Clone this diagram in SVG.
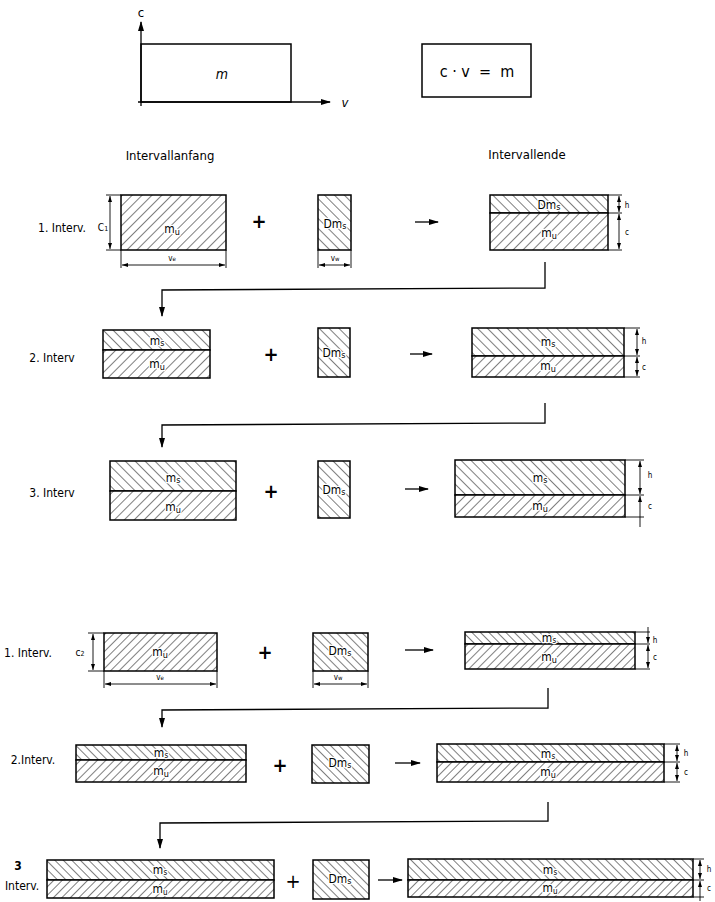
<svg xmlns="http://www.w3.org/2000/svg" width="715" height="902" viewBox="0 0 715 902">
<style>
  .t{font-family:"DejaVu Sans Condensed","Liberation Sans Narrow","Liberation Sans",sans-serif;fill:#000}
  .lbl{font-size:12px}
  .in{font-size:12px;text-anchor:middle;paint-order:stroke;stroke:#fff;stroke-width:2.5px;stroke-linejoin:round}
  .sm{font-size:8px;text-anchor:middle}
  .box{stroke:#000;stroke-width:1.5;}
  .ln{stroke:#000;stroke-width:1.3;fill:none}
  .thin{stroke:#000;stroke-width:0.9;fill:none}
</style>
<defs>
  <pattern id="hu" width="7" height="7" patternUnits="userSpaceOnUse" patternTransform="rotate(45)"><rect width="7" height="7" fill="#fff"/><line x1="0" y1="0" x2="0" y2="7" stroke="#000" stroke-width="1"/></pattern>
  <pattern id="hs" width="7" height="7" patternUnits="userSpaceOnUse" patternTransform="rotate(-45)"><rect width="7" height="7" fill="#fff"/><line x1="0" y1="0" x2="0" y2="7" stroke="#000" stroke-width="1"/></pattern>
  <pattern id="hu2" width="6" height="6" patternUnits="userSpaceOnUse" patternTransform="rotate(45)"><rect width="6" height="6" fill="#fff"/><line x1="0" y1="0" x2="0" y2="6" stroke="#000" stroke-width="1"/></pattern>
  <pattern id="hs2" width="6" height="6" patternUnits="userSpaceOnUse" patternTransform="rotate(-45)"><rect width="6" height="6" fill="#fff"/><line x1="0" y1="0" x2="0" y2="6" stroke="#000" stroke-width="1"/></pattern>
  <marker id="ah" markerWidth="10" markerHeight="8" refX="9" refY="4" orient="auto" markerUnits="userSpaceOnUse"><path d="M0,1 L10,4 L0,7 Z" fill="#000"/></marker>
  <marker id="da" markerWidth="6" markerHeight="4" refX="6" refY="2" orient="auto-start-reverse" markerUnits="userSpaceOnUse"><path d="M0,0 L6,2 L0,4 Z" fill="#000"/></marker>
</defs>
<rect width="715" height="902" fill="#fff"/>

<!-- Top: c-v diagram -->
<g id="cv-diagram">
  <line class="ln" x1="141" y1="106" x2="141" y2="22" marker-end="url(#ah)"/>
  <line class="ln" x1="138" y1="102" x2="330" y2="102" marker-end="url(#ah)"/>
  <rect class="box" x="141" y="44" width="150" height="58" fill="none"/>
  <text class="t" x="141" y="17" font-size="13" text-anchor="middle">c</text>
  <text class="t" x="345" y="107" font-size="13" text-anchor="middle" font-style="italic">v</text>
  <text class="t" x="222" y="79" font-size="14" text-anchor="middle" font-style="italic">m</text>
</g>
<g id="formula">
  <rect class="box" x="422" y="44" width="109" height="53" fill="none"/>
  <text class="t" x="477" y="77" font-size="16" text-anchor="middle" xml:space="preserve">c · v  =  m</text>
</g>

<g id="headers">
  <text class="t" font-size="13" x="170" y="160" text-anchor="middle">Intervallanfang</text>
  <text class="t" font-size="13" x="527" y="159" text-anchor="middle">Intervallende</text>
</g>

<!-- Connectors -->
<g id="connectors">
  <polyline class="ln" points="545,262 545,288 162,290 162,316" marker-end="url(#ah)"/>
  <polyline class="ln" points="545,403 545,423 162,425 162,447" marker-end="url(#ah)"/>
  <polyline class="ln" points="548,688 548,708 162,710 162,727" marker-end="url(#ah)"/>
  <polyline class="ln" points="548,802 548,821 160,823 160,848" marker-end="url(#ah)"/>
</g>

<!-- Section A, row 1 -->
<g id="a1-label"><text class="t lbl" x="62" y="232" text-anchor="middle">1. Interv.</text></g>
<g id="a1-start">
  <rect class="box" x="121" y="195" width="105" height="55" fill="url(#hu)"/>
  <text class="t in" x="172" y="233">m<tspan font-size="9" dy="2">u</tspan></text>
  <line class="thin" x1="106" y1="195" x2="121" y2="195"/>
  <line class="thin" x1="106" y1="250" x2="121" y2="250"/>
  <line class="thin" x1="110" y1="196" x2="110" y2="249" marker-start="url(#da)" marker-end="url(#da)"/>
  <text class="t" x="103" y="231" font-size="10" text-anchor="middle">C<tspan font-size="7">1</tspan></text>
  <line class="thin" x1="121" y1="250" x2="121" y2="268"/>
  <line class="thin" x1="226" y1="250" x2="226" y2="268"/>
  <line class="thin" x1="122" y1="265" x2="225" y2="265" marker-start="url(#da)" marker-end="url(#da)"/>
  <text class="t sm" x="172" y="261">v<tspan font-size="6">e</tspan></text>
</g>
<g id="a1-plus"><text class="t" x="259" y="228" font-size="20" font-weight="bold" text-anchor="middle">+</text></g>
<g id="a1-dm">
  <rect class="box" x="318" y="195" width="33" height="55" fill="url(#hs)"/>
  <text class="t in" x="335" y="228">Dm<tspan font-size="9" dy="1">s</tspan></text>
  <line class="thin" x1="318" y1="250" x2="318" y2="268"/>
  <line class="thin" x1="351" y1="250" x2="351" y2="268"/>
  <line class="thin" x1="319" y1="265" x2="350" y2="265" marker-start="url(#da)" marker-end="url(#da)"/>
  <text class="t sm" x="335" y="261">v<tspan font-size="6">w</tspan></text>
</g>
<g id="a1-arrow"><line class="ln" x1="415" y1="222" x2="438" y2="222" stroke-width="2" marker-end="url(#ah)"/></g>
<g id="a1-end">
  <rect class="box" x="490" y="195" width="118" height="18" fill="url(#hs)"/>
  <rect class="box" x="490" y="213" width="118" height="37" fill="url(#hu)"/>
  <text class="t in" x="549" y="209">Dm<tspan font-size="9" dy="1">s</tspan></text>
  <text class="t in" x="549" y="237">m<tspan font-size="9" dy="2">u</tspan></text>
  <line class="thin" x1="608" y1="195" x2="622" y2="195"/>
  <line class="thin" x1="608" y1="213" x2="622" y2="213"/>
  <line class="thin" x1="608" y1="250" x2="622" y2="250"/>
  <line class="thin" x1="619" y1="196" x2="619" y2="212" marker-start="url(#da)" marker-end="url(#da)"/>
  <line class="thin" x1="619" y1="214" x2="619" y2="249" marker-start="url(#da)" marker-end="url(#da)"/>
  <text class="t sm" x="627" y="208">h</text>
  <text class="t sm" x="627" y="235">c</text>
</g>

<!-- Section A, row 2 -->
<g id="a2-label"><text class="t lbl" x="52" y="362" text-anchor="middle">2. Interv</text></g>
<g id="a2-start">
  <rect class="box" x="103" y="330" width="107" height="20" fill="url(#hs)"/>
  <rect class="box" x="103" y="350" width="107" height="28" fill="url(#hu)"/>
  <text class="t in" x="157" y="345">m<tspan font-size="9" dy="1">s</tspan></text>
  <text class="t in" x="157" y="368">m<tspan font-size="9" dy="2">u</tspan></text>
</g>
<g id="a2-plus"><text class="t" x="271" y="361" font-size="20" font-weight="bold" text-anchor="middle">+</text></g>
<g id="a2-dm">
  <rect class="box" x="318" y="328" width="32" height="49" fill="url(#hs)"/>
  <text class="t in" x="334" y="357">Dm<tspan font-size="9" dy="1">s</tspan></text>
</g>
<g id="a2-arrow"><line class="ln" x1="410" y1="354" x2="432" y2="354" stroke-width="2" marker-end="url(#ah)"/></g>
<g id="a2-end">
  <rect class="box" x="472" y="328" width="152" height="28" fill="url(#hs)"/>
  <rect class="box" x="472" y="356" width="152" height="21" fill="url(#hu)"/>
  <text class="t in" x="548" y="346">m<tspan font-size="9" dy="1">s</tspan></text>
  <text class="t in" x="548" y="370">m<tspan font-size="9" dy="2">u</tspan></text>
  <line class="thin" x1="624" y1="328" x2="640" y2="328"/>
  <line class="thin" x1="624" y1="356" x2="640" y2="356"/>
  <line class="thin" x1="624" y1="377" x2="640" y2="377"/>
  <line class="thin" x1="637" y1="329" x2="637" y2="355" marker-start="url(#da)" marker-end="url(#da)"/>
  <line class="thin" x1="637" y1="357" x2="637" y2="376" marker-start="url(#da)" marker-end="url(#da)"/>
  <text class="t sm" x="644" y="344">h</text>
  <text class="t sm" x="644" y="370">c</text>
</g>

<!-- Section A, row 3 -->
<g id="a3-label"><text class="t lbl" x="52" y="497" text-anchor="middle">3. Interv</text></g>
<g id="a3-start">
  <rect class="box" x="110" y="461" width="126" height="30" fill="url(#hs)"/>
  <rect class="box" x="110" y="491" width="126" height="29" fill="url(#hu)"/>
  <text class="t in" x="173" y="482">m<tspan font-size="9" dy="1">s</tspan></text>
  <text class="t in" x="173" y="511">m<tspan font-size="9" dy="2">u</tspan></text>
</g>
<g id="a3-plus"><text class="t" x="271" y="498" font-size="20" font-weight="bold" text-anchor="middle">+</text></g>
<g id="a3-dm">
  <rect class="box" x="318" y="461" width="32" height="57" fill="url(#hs)"/>
  <text class="t in" x="334" y="494">Dm<tspan font-size="9" dy="1">s</tspan></text>
</g>
<g id="a3-arrow"><line class="ln" x1="405" y1="489" x2="428" y2="489" stroke-width="2" marker-end="url(#ah)"/></g>
<g id="a3-end">
  <rect class="box" x="455" y="460" width="170" height="35" fill="url(#hs)"/>
  <rect class="box" x="455" y="495" width="170" height="22" fill="url(#hu)"/>
  <text class="t in" x="540" y="482">m<tspan font-size="9" dy="1">s</tspan></text>
  <text class="t in" x="540" y="510">m<tspan font-size="9" dy="2">u</tspan></text>
  <line class="thin" x1="625" y1="460" x2="644" y2="460"/>
  <line class="thin" x1="625" y1="495" x2="644" y2="495"/>
  <line class="thin" x1="625" y1="517" x2="644" y2="517"/>
  <line class="thin" x1="640" y1="461" x2="640" y2="494" marker-start="url(#da)" marker-end="url(#da)"/>
  <line class="thin" x1="640" y1="496" x2="640" y2="527" marker-start="url(#da)"/>
  <text class="t sm" x="650" y="478">h</text>
  <text class="t sm" x="650" y="509">c</text>
</g>

<!-- Section B, row 1 -->
<g id="b1-label"><text class="t lbl" x="28" y="657" text-anchor="middle">1. Interv.</text></g>
<g id="b1-start">
  <rect class="box" x="104" y="633" width="113" height="38" fill="url(#hu2)"/>
  <text class="t in" x="160" y="656">m<tspan font-size="9" dy="2">u</tspan></text>
  <line class="thin" x1="88" y1="633" x2="104" y2="633"/>
  <line class="thin" x1="88" y1="671" x2="104" y2="671"/>
  <line class="thin" x1="93" y1="634" x2="93" y2="670" marker-start="url(#da)" marker-end="url(#da)"/>
  <text class="t" x="80" y="656" font-size="10" text-anchor="middle">c<tspan font-size="7">2</tspan></text>
  <line class="thin" x1="104" y1="671" x2="104" y2="688"/>
  <line class="thin" x1="217" y1="671" x2="217" y2="688"/>
  <line class="thin" x1="105" y1="684" x2="216" y2="684" marker-start="url(#da)" marker-end="url(#da)"/>
  <text class="t sm" x="160" y="680">v<tspan font-size="6">e</tspan></text>
</g>
<g id="b1-plus"><text class="t" x="265" y="659" font-size="20" font-weight="bold" text-anchor="middle">+</text></g>
<g id="b1-dm">
  <rect class="box" x="313" y="633" width="55" height="38" fill="url(#hs2)"/>
  <text class="t in" x="340" y="655">Dm<tspan font-size="9" dy="1">s</tspan></text>
  <line class="thin" x1="313" y1="671" x2="313" y2="688"/>
  <line class="thin" x1="368" y1="671" x2="368" y2="688"/>
  <line class="thin" x1="314" y1="684" x2="367" y2="684" marker-start="url(#da)" marker-end="url(#da)"/>
  <text class="t sm" x="338" y="680">v<tspan font-size="6">w</tspan></text>
</g>
<g id="b1-arrow"><line class="ln" x1="405" y1="650" x2="433" y2="650" stroke-width="2" marker-end="url(#ah)"/></g>
<g id="b1-end">
  <rect class="box" x="465" y="632" width="170" height="12" fill="url(#hs2)"/>
  <rect class="box" x="465" y="644" width="170" height="25" fill="url(#hu2)"/>
  <text class="t in" x="549" y="642" font-size="11">m<tspan font-size="8" dy="1">s</tspan></text>
  <text class="t in" x="549" y="661">m<tspan font-size="9" dy="2">u</tspan></text>
  <line class="thin" x1="635" y1="632" x2="650" y2="632"/>
  <line class="thin" x1="635" y1="644" x2="650" y2="644"/>
  <line class="thin" x1="635" y1="669" x2="650" y2="669"/>
  <line class="thin" x1="648" y1="627" x2="648" y2="643" marker-end="url(#da)"/>
  <line class="thin" x1="648" y1="645" x2="648" y2="668" marker-start="url(#da)" marker-end="url(#da)"/>
  <text class="t sm" x="655" y="643">h</text>
  <text class="t sm" x="655" y="660">c</text>
</g>

<!-- Section B, row 2 -->
<g id="b2-label"><text class="t lbl" x="33" y="764" text-anchor="middle">2.Interv.</text></g>
<g id="b2-start">
  <rect class="box" x="76" y="745" width="170" height="15" fill="url(#hs2)"/>
  <rect class="box" x="76" y="760" width="170" height="22" fill="url(#hu2)"/>
  <text class="t in" x="161" y="757" font-size="11">m<tspan font-size="8" dy="1">s</tspan></text>
  <text class="t in" x="161" y="775">m<tspan font-size="9" dy="2">u</tspan></text>
</g>
<g id="b2-plus"><text class="t" x="280" y="772" font-size="20" font-weight="bold" text-anchor="middle">+</text></g>
<g id="b2-dm">
  <rect class="box" x="312" y="745" width="57" height="38" fill="url(#hs2)"/>
  <text class="t in" x="340" y="767">Dm<tspan font-size="9" dy="1">s</tspan></text>
</g>
<g id="b2-arrow"><line class="ln" x1="395" y1="763" x2="420" y2="763" stroke-width="2" marker-end="url(#ah)"/></g>
<g id="b2-end">
  <rect class="box" x="437" y="744" width="227" height="18" fill="url(#hs2)"/>
  <rect class="box" x="437" y="762" width="227" height="20" fill="url(#hu2)"/>
  <text class="t in" x="548" y="758" font-size="11">m<tspan font-size="8" dy="1">s</tspan></text>
  <text class="t in" x="548" y="776">m<tspan font-size="9" dy="2">u</tspan></text>
  <line class="thin" x1="664" y1="744" x2="680" y2="744"/>
  <line class="thin" x1="664" y1="762" x2="680" y2="762"/>
  <line class="thin" x1="664" y1="782" x2="680" y2="782"/>
  <line class="thin" x1="677" y1="745" x2="677" y2="761" marker-start="url(#da)" marker-end="url(#da)"/>
  <line class="thin" x1="677" y1="763" x2="677" y2="781" marker-start="url(#da)" marker-end="url(#da)"/>
  <text class="t sm" x="686" y="756">h</text>
  <text class="t sm" x="686" y="775">c</text>
</g>

<!-- Section B, row 3 -->
<g id="b3-label">
  <text class="t lbl" x="18" y="870" text-anchor="middle" font-weight="bold">3</text>
  <text class="t lbl" x="22" y="890" text-anchor="middle">Interv.</text>
</g>
<g id="b3-start">
  <rect class="box" x="47" y="860" width="227" height="20" fill="url(#hs2)"/>
  <rect class="box" x="47" y="880" width="227" height="18" fill="url(#hu2)"/>
  <text class="t in" x="160" y="874" font-size="11">m<tspan font-size="8" dy="1">s</tspan></text>
  <text class="t in" x="160" y="893" font-size="11">m<tspan font-size="8" dy="2">u</tspan></text>
</g>
<g id="b3-plus"><text class="t" x="293" y="888" font-size="20" text-anchor="middle">+</text></g>
<g id="b3-dm">
  <rect class="box" x="313" y="860" width="56" height="39" fill="url(#hs2)"/>
  <text class="t in" x="340" y="883">Dm<tspan font-size="9" dy="1">s</tspan></text>
</g>
<g id="b3-arrow"><line class="ln" x1="378" y1="880" x2="402" y2="880" stroke-width="2" marker-end="url(#ah)"/></g>
<g id="b3-end">
  <rect class="box" x="408" y="859" width="285" height="21" fill="url(#hs2)"/>
  <rect class="box" x="408" y="880" width="285" height="17" fill="url(#hu2)"/>
  <text class="t in" x="550" y="874" font-size="11">m<tspan font-size="8" dy="1">s</tspan></text>
  <text class="t in" x="550" y="892" font-size="11">m<tspan font-size="8" dy="2">u</tspan></text>
  <line class="thin" x1="693" y1="859" x2="704" y2="859"/>
  <line class="thin" x1="693" y1="880" x2="704" y2="880"/>
  <line class="thin" x1="693" y1="897" x2="704" y2="897"/>
  <line class="thin" x1="700" y1="860" x2="700" y2="879" marker-start="url(#da)" marker-end="url(#da)"/>
  <line class="thin" x1="700" y1="881" x2="700" y2="901" marker-start="url(#da)"/>
  <text class="t sm" x="709" y="872">h</text>
  <text class="t sm" x="709" y="891">c</text>
</g>
</svg>
